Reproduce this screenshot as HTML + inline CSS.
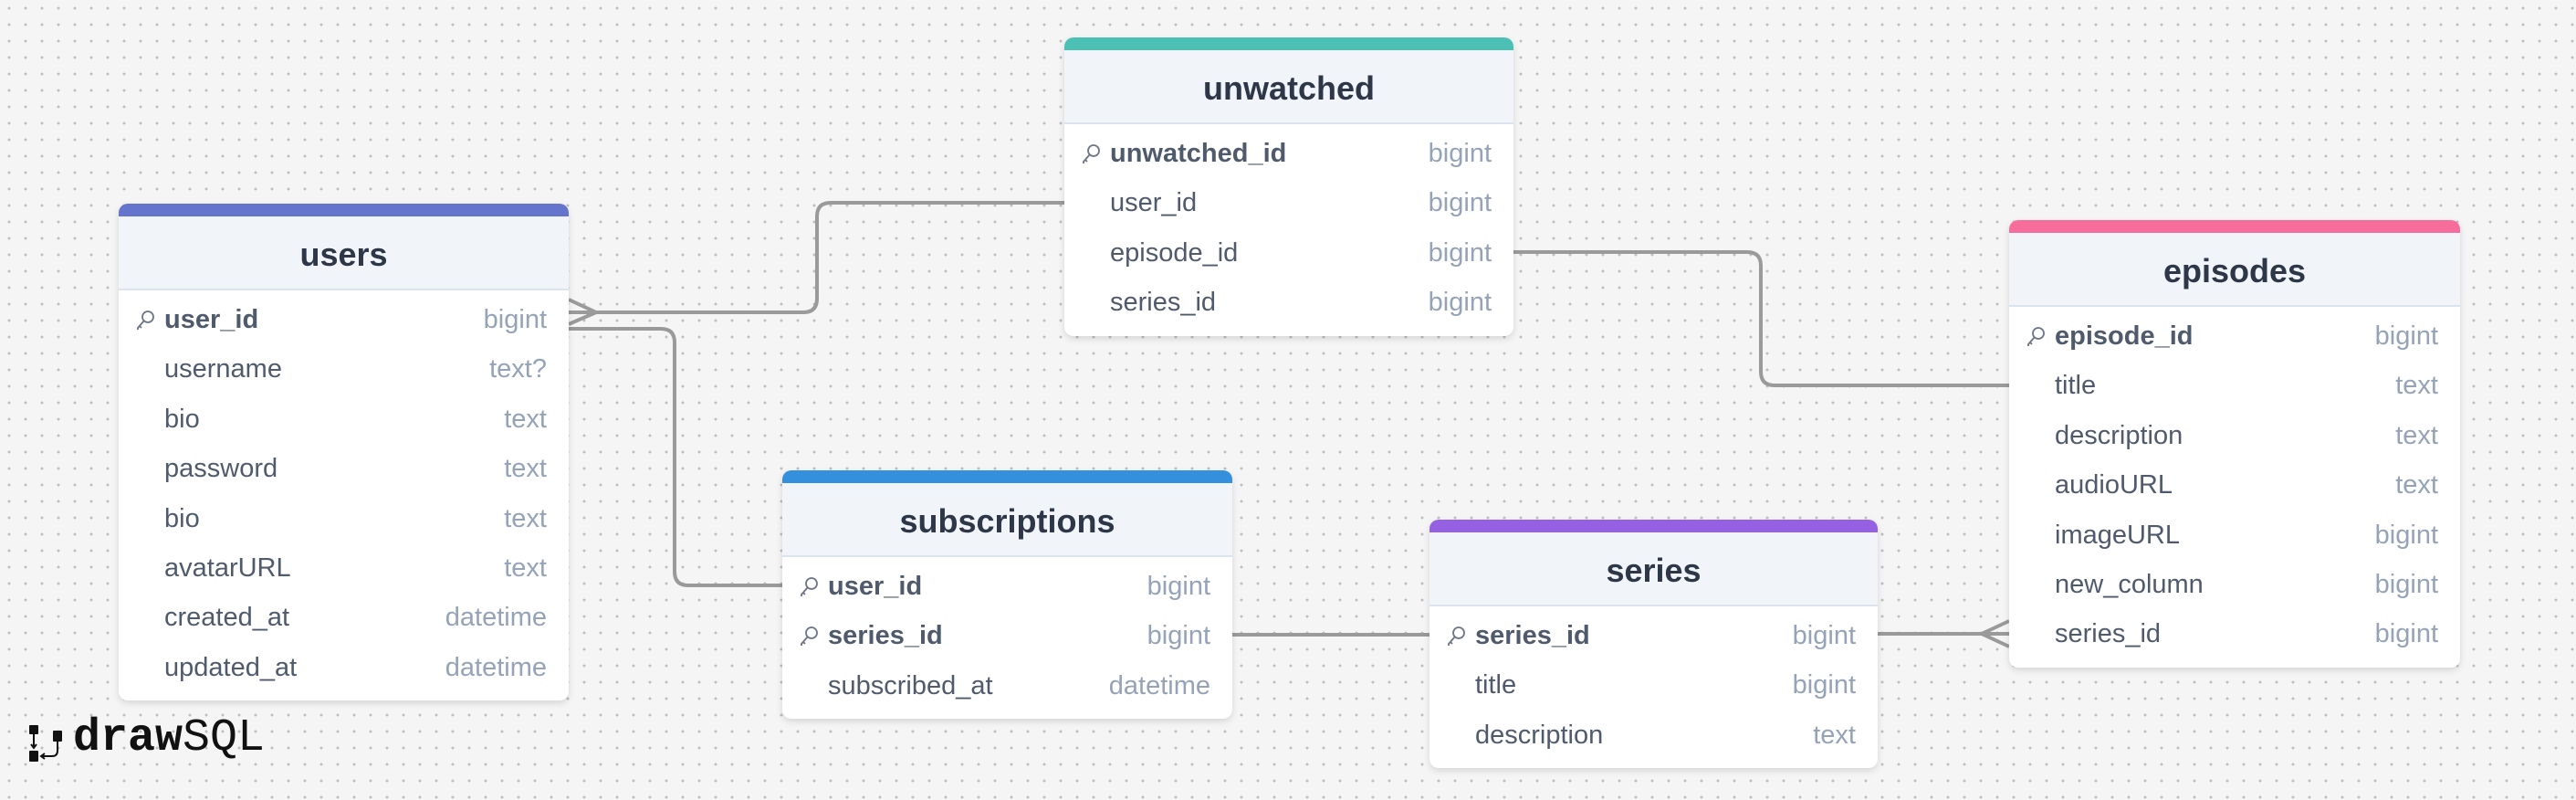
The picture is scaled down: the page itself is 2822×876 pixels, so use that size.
<!DOCTYPE html>
<html><head><meta charset="utf-8"><style>
html,body{margin:0;padding:0}
body{width:2822px;height:876px;position:relative;overflow:hidden;background-color:#f5f5f5;
background-image:radial-gradient(circle,#bdbdbd 1.3px,transparent 1.6px);background-size:18px 18px;background-position:1px 0px;
font-family:"Liberation Sans",sans-serif}
.t{position:absolute;background:#fff;border-radius:10px;box-shadow:0 3px 8px rgba(0,0,0,0.13);overflow:hidden}
.bar{height:14px}
.h{height:79px;background:#f1f5f9;border-bottom:2px solid #dbe3ec;text-align:center;font-weight:bold;font-size:36px;color:#2d3748;line-height:84px}
.rows{padding-top:5px}
.r{height:54.4px;position:relative;font-size:29px;line-height:54px;color:#4f5b6d}
.r .n{position:absolute;left:50px}
.r .ty{position:absolute;right:24px;color:#94a3b8}
.r.pk .n{font-weight:bold}
.r svg{position:absolute;left:18px;top:16px}
#lines{position:absolute;left:0;top:0}
.logo{position:absolute;left:80px;top:780px;font-family:"Liberation Mono",monospace;font-size:50px;color:#111}
</style></head><body>
<svg id="lines" width="2822" height="876" fill="none" stroke="#9a9a9a" stroke-width="4">
<path d="M623 342 H880 Q895 342 895 327 V237 Q895 222 910 222 H1166"/>
<path d="M623 328 L653 342 L623 355"/>
<path d="M623 360 H724 Q739 360 739 375 V626 Q739 641 754 641 H857"/>
<path d="M1658 276 H1914 Q1929 276 1929 291 V407 Q1929 422 1944 422 H2201"/>
<path d="M1350 695 H1566"/>
<path d="M2057 694 H2201"/>
<path d="M2201 680 L2171 694 L2201 708"/>
</svg>

<div class="t" style="left:130px;top:223px;width:493px">
<div class="bar" style="background:#6574cd"></div><div class="h">users</div>
<div class="rows">
<div class="r pk"><svg width="22" height="24" viewBox="0 0 22 24"><circle cx="14" cy="8" r="6" fill="none" stroke="#6b7585" stroke-width="1.8"/><path d="M10 12 L3 20 L3 22 M5 18 L7 20" stroke="#6b7585" stroke-width="1.8" fill="none"/></svg><span class="n">user_id</span><span class="ty">bigint</span></div>
<div class="r"><span class="n">username</span><span class="ty">text?</span></div>
<div class="r"><span class="n">bio</span><span class="ty">text</span></div>
<div class="r"><span class="n">password</span><span class="ty">text</span></div>
<div class="r"><span class="n">bio</span><span class="ty">text</span></div>
<div class="r"><span class="n">avatarURL</span><span class="ty">text</span></div>
<div class="r"><span class="n">created_at</span><span class="ty">datetime</span></div>
<div class="r"><span class="n">updated_at</span><span class="ty">datetime</span></div>
</div><div style="height:9px"></div></div>

<div class="t" style="left:1166px;top:41px;width:492px">
<div class="bar" style="background:#4dc0b5"></div><div class="h">unwatched</div>
<div class="rows">
<div class="r pk"><svg width="22" height="24" viewBox="0 0 22 24"><circle cx="14" cy="8" r="6" fill="none" stroke="#6b7585" stroke-width="1.8"/><path d="M10 12 L3 20 L3 22 M5 18 L7 20" stroke="#6b7585" stroke-width="1.8" fill="none"/></svg><span class="n">unwatched_id</span><span class="ty">bigint</span></div>
<div class="r"><span class="n">user_id</span><span class="ty">bigint</span></div>
<div class="r"><span class="n">episode_id</span><span class="ty">bigint</span></div>
<div class="r"><span class="n">series_id</span><span class="ty">bigint</span></div>
</div><div style="height:9px"></div></div>

<div class="t" style="left:2201px;top:241px;width:494px">
<div class="bar" style="background:#f66d9b"></div><div class="h">episodes</div>
<div class="rows">
<div class="r pk"><svg width="22" height="24" viewBox="0 0 22 24"><circle cx="14" cy="8" r="6" fill="none" stroke="#6b7585" stroke-width="1.8"/><path d="M10 12 L3 20 L3 22 M5 18 L7 20" stroke="#6b7585" stroke-width="1.8" fill="none"/></svg><span class="n">episode_id</span><span class="ty">bigint</span></div>
<div class="r"><span class="n">title</span><span class="ty">text</span></div>
<div class="r"><span class="n">description</span><span class="ty">text</span></div>
<div class="r"><span class="n">audioURL</span><span class="ty">text</span></div>
<div class="r"><span class="n">imageURL</span><span class="ty">bigint</span></div>
<div class="r"><span class="n">new_column</span><span class="ty">bigint</span></div>
<div class="r"><span class="n">series_id</span><span class="ty">bigint</span></div>
</div><div style="height:9px"></div></div>

<div class="t" style="left:857px;top:515px;width:493px">
<div class="bar" style="background:#3490dc"></div><div class="h">subscriptions</div>
<div class="rows">
<div class="r pk"><svg width="22" height="24" viewBox="0 0 22 24"><circle cx="14" cy="8" r="6" fill="none" stroke="#6b7585" stroke-width="1.8"/><path d="M10 12 L3 20 L3 22 M5 18 L7 20" stroke="#6b7585" stroke-width="1.8" fill="none"/></svg><span class="n">user_id</span><span class="ty">bigint</span></div>
<div class="r pk"><svg width="22" height="24" viewBox="0 0 22 24"><circle cx="14" cy="8" r="6" fill="none" stroke="#6b7585" stroke-width="1.8"/><path d="M10 12 L3 20 L3 22 M5 18 L7 20" stroke="#6b7585" stroke-width="1.8" fill="none"/></svg><span class="n">series_id</span><span class="ty">bigint</span></div>
<div class="r"><span class="n">subscribed_at</span><span class="ty">datetime</span></div>
</div><div style="height:9px"></div></div>

<div class="t" style="left:1566px;top:569px;width:491px">
<div class="bar" style="background:#9561e2"></div><div class="h">series</div>
<div class="rows">
<div class="r pk"><svg width="22" height="24" viewBox="0 0 22 24"><circle cx="14" cy="8" r="6" fill="none" stroke="#6b7585" stroke-width="1.8"/><path d="M10 12 L3 20 L3 22 M5 18 L7 20" stroke="#6b7585" stroke-width="1.8" fill="none"/></svg><span class="n">series_id</span><span class="ty">bigint</span></div>
<div class="r"><span class="n">title</span><span class="ty">bigint</span></div>
<div class="r"><span class="n">description</span><span class="ty">text</span></div>
</div><div style="height:9px"></div></div>

<svg style="position:absolute;left:30px;top:792px" width="44" height="44" viewBox="0 0 44 44">
<rect x="2" y="2" width="10" height="10" rx="1" fill="#111"/><rect x="2" y="30" width="10" height="12" rx="1" fill="#111"/>
<rect x="28" y="8" width="10" height="12" rx="1" fill="#111"/>
<path d="M7 12 V26 M4 23 L7 27 L10 23" stroke="#111" stroke-width="2" fill="none"/>
<path d="M33 20 V30 Q33 36 27 36 H16 M19 33 L15 36 L19 39" stroke="#111" stroke-width="2" fill="none"/>
</svg>
<div class="logo"><b>draw</b>SQL</div>
</body></html>
